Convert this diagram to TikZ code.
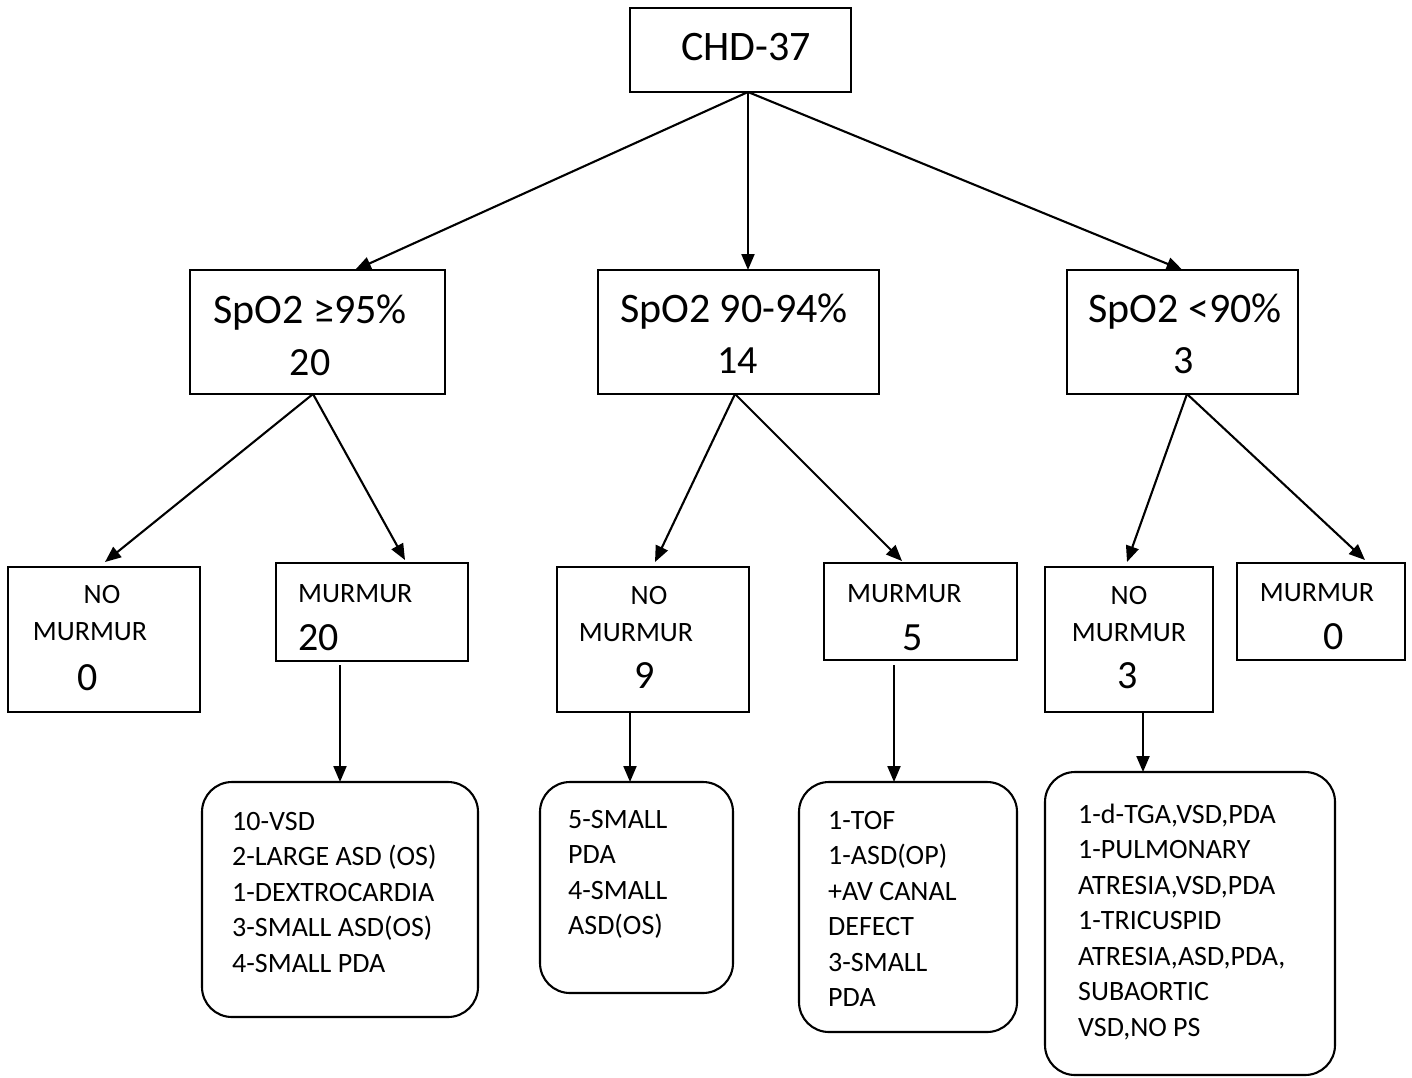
\documentclass[tikz,border=0pt]{standalone}
\usepackage{fontspec}
\setmainfont{Carlito}
\usetikzlibrary{arrows.meta}
\tikzset{
  box/.style={draw, line width=2.1pt, rectangle, inner sep=0pt, outer sep=0pt},
  rbox/.style={box, rounded corners=30pt},
  arr/.style={line width=2.1pt, -{Triangle[length=16pt,width=13pt]}},
  big/.style={inner sep=0pt, anchor=base, font=\fontsize{42}{50}\selectfont},
  num/.style={inner sep=0pt, anchor=base, font=\fontsize{40}{48}\selectfont},
  sm/.style={inner sep=0pt, anchor=base, font=\fontsize{28}{35.5}\selectfont},
  lst/.style={inner sep=0pt, anchor=north west, align=left, font=\fontsize{28}{35.5}\selectfont},
}
\begin{document}
\begin{tikzpicture}[x=1pt,y=-1pt]
\useasboundingbox (0,0) rectangle (1412,1077);
% boxes
\node[box, minimum width=221pt, minimum height=84pt] (chd) at (740.5,50) {};
\node[box, minimum width=255pt, minimum height=124pt] (s95) at (317.5,332) {};
\node[box, minimum width=281pt, minimum height=124pt] (s90) at (738.5,332) {};
\node[box, minimum width=231pt, minimum height=124pt] (s89) at (1182.5,332) {};
\node[box, minimum width=192pt, minimum height=145pt] (nm0) at (104,639.5) {};
\node[box, minimum width=192pt, minimum height=98pt] (m20) at (372,612) {};
\node[box, minimum width=192pt, minimum height=145pt] (nm9) at (653,639.5) {};
\node[box, minimum width=193pt, minimum height=97pt] (m5) at (920.5,611.5) {};
\node[box, minimum width=168pt, minimum height=145pt] (nm3) at (1129,639.5) {};
\node[box, minimum width=168pt, minimum height=97pt] (m0) at (1321,611.5) {};
\node[rbox, minimum width=276pt, minimum height=235pt] (l1) at (340,899.5) {};
\node[rbox, minimum width=193pt, minimum height=211pt] (l2) at (636.5,887.5) {};
\node[rbox, minimum width=218pt, minimum height=250pt] (l3) at (908,907) {};
\node[rbox, minimum width=290pt, minimum height=303pt] (l4) at (1190,923.5) {};
% texts
\node[big] (tchd) at (746,60) {CHD-37};
\node[big] (t95a) at (310,323) {SpO2 ≥95\%};
\node[num] (t95b) at (310,375) {20};
\node[big] (t90a) at (734,322) {SpO2 90-94\%};
\node[num] (t90b) at (737.5,373) {14};
\node[big] (t89a) at (1185,322) {SpO2 <90\%};
\node[num] (t89b) at (1184,373) {3};
\node[sm] (tnm0a) at (102,603) {NO};
\node[sm] (tnm0b) at (90,640) {MURMUR};
\node[num] (tnm0c) at (88,690) {0};
\node[sm, anchor=base west] (tm20a) at (298,602) {MURMUR};
\node[num, anchor=base west] (tm20b) at (298,650) {20};
\node[sm] (tnm9a) at (649,604) {NO};
\node[sm] (tnm9b) at (636,641) {MURMUR};
\node[num] (tnm9c) at (645,688) {9};
\node[sm, anchor=base west] (tm5a) at (847,602) {MURMUR};
\node[num] (tm5b) at (913,650) {5};
\node[sm] (tnm3a) at (1129,604) {NO};
\node[sm] (tnm3b) at (1129,641) {MURMUR};
\node[num] (tnm3c) at (1128,688) {3};
\node[sm] (tm0a) at (1317,601) {MURMUR};
\node[num] (tm0b) at (1334,649) {0};
\node[lst] (tl1) at (232,805) {\strut 10-VSD\\2-LARGE ASD (OS)\\1-DEXTROCARDIA\\3-SMALL ASD(OS)\\4-SMALL PDA};
\node[lst] (tl2) at (568,803) {\strut 5-SMALL\\PDA\\4-SMALL\\ASD(OS)};
\node[lst] (tl3) at (828,804) {\strut 1-TOF\\1-ASD(OP)\\+AV CANAL\\DEFECT\\3-SMALL\\PDA};
\node[lst] (tl4) at (1078,798) {\strut 1-d-TGA,VSD,PDA\\1-PULMONARY\\ATRESIA,VSD,PDA\\1-TRICUSPID\\ATRESIA,ASD,PDA,\\SUBAORTIC\\VSD,NO PS};
% connectors
\draw[arr] ([xshift=7.5pt]chd.south) -- ([xshift=37.5pt]s95.north);
\draw[arr] ([xshift=7.5pt]chd.south) -- ([xshift=9.5pt]s90.north);
\draw[arr] ([xshift=7.5pt]chd.south) -- (s89.north);
\draw[arr] ([xshift=-4.5pt]s95.south) -- ([xshift=1pt,yshift=5pt]nm0.north);
\draw[arr] ([xshift=-4.5pt]s95.south) -- ([xshift=33pt,yshift=3pt]m20.north);
\draw[arr] ([xshift=-3.5pt]s90.south) -- ([xshift=2pt,yshift=5pt]nm9.north);
\draw[arr] ([xshift=-3.5pt]s90.south) -- ([xshift=-18.5pt,yshift=2pt]m5.north);
\draw[arr] ([xshift=4.5pt]s89.south) -- ([xshift=-2pt,yshift=5pt]nm3.north);
\draw[arr] ([xshift=4.5pt]s89.south) -- ([xshift=44pt,yshift=3pt]m0.north);
\draw[arr] ([xshift=-32pt,yshift=-4pt]m20.south) -- (l1.north);
\draw[arr] ([xshift=-23pt]nm9.south) -- ([xshift=-6.5pt]l2.north);
\draw[arr] ([xshift=-26.5pt,yshift=-5pt]m5.south) -- ([xshift=-14pt]l3.north);
\draw[arr] ([xshift=14pt]nm3.south) -- ([xshift=-47pt]l4.north);
\end{tikzpicture}
\end{document}
